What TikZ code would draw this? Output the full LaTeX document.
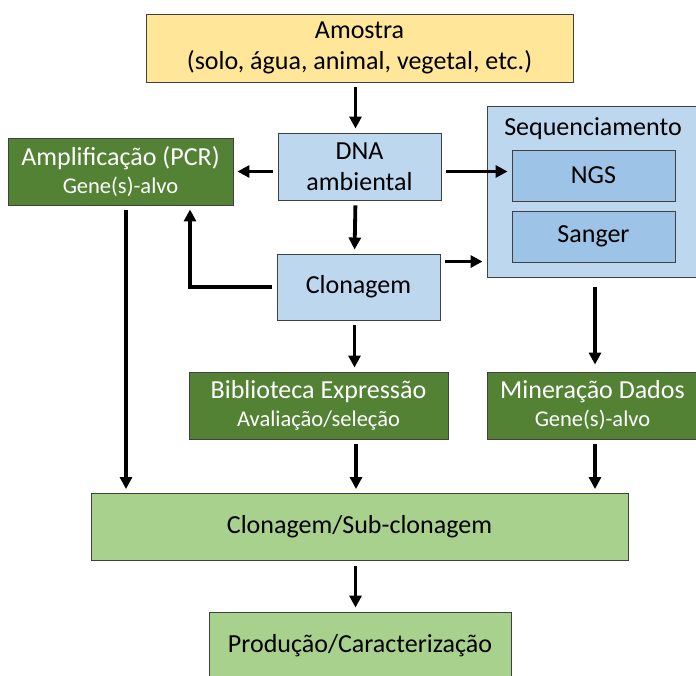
\documentclass[tikz,border=0pt]{standalone}
\usepackage{fontspec}
\setmainfont{Carlito}
\usetikzlibrary{arrows.meta,calc}
\definecolor{sampleyellow}{HTML}{FFE699}
\definecolor{paleblue}{HTML}{BDD7EE}
\definecolor{midblue}{HTML}{9DC3E6}
\definecolor{darkgreen}{HTML}{548235}
\definecolor{lightgreen}{HTML}{A9D18E}
\definecolor{edgegray}{HTML}{404040}
\newcommand{\mainsize}{\fontsize{26}{31}\selectfont}
\newcommand{\pairsize}{\fontsize{26}{28}\selectfont}
\newcommand{\subsize}{\fontsize{22.5}{28}\selectfont}
\tikzset{
  box/.style={draw=edgegray, line width=0.9pt, inner sep=0pt, align=center,
    font=\mainsize},
  yellowbox/.style={box, fill=sampleyellow},
  bluebox/.style={box, fill=paleblue},
  midbox/.style={box, fill=midblue},
  greenbox/.style={box, fill=darkgreen, text=white, font=\pairsize},
  palegreenbox/.style={box, fill=lightgreen},
  arr/.style={line width=3.8pt, -{Triangle[length=12pt,width=12pt]},
    shorten <=5pt, shorten >=4pt},
}
\begin{document}
\begin{tikzpicture}[x=1pt, y=-1pt]
  \useasboundingbox (0,0) rectangle (696,676);

  % boxes
  \node[yellowbox, minimum width=427pt, minimum height=68pt] (amostra) at (359.5,48)
    {Amostra\\(solo, água, animal, vegetal, etc.)};
  \node[bluebox, minimum width=163pt, minimum height=67pt] (dna) at (359.5,166.5)
    {DNA\\ambiental};
  \node[bluebox, minimum width=211pt, minimum height=171pt] (seq) at (592.5,191.5) {};
  \node[font=\mainsize, inner sep=0pt] (seqtitle) at (593,129) {Sequenciamento};
  \node[midbox, minimum width=163pt, minimum height=51pt] (ngs) at (593.5,175.5) {NGS};
  \node[midbox, minimum width=163pt, minimum height=51pt] (sanger) at (593.5,236.5) {Sanger};
  \node[greenbox, minimum width=225pt, minimum height=67pt] (amp) at (120.5,171.5)
    {Amplificação (PCR)\\{\subsize Gene(s)-alvo}};
  \node[bluebox, minimum width=163pt, minimum height=66pt] (clon) at (358.5,287) {Clonagem};
  \node[greenbox, minimum width=259pt, minimum height=67pt] (bib) at (318.5,405.5)
    {Biblioteca Expressão\\{\subsize Avaliação/seleção}};
  \node[greenbox, minimum width=211pt, minimum height=67pt] (mine) at (592.5,405.5)
    {Mineração Dados\\{\subsize Gene(s)-alvo}};
  \node[palegreenbox, minimum width=537pt, minimum height=67pt] (sub) at (359.5,527)
    {Clonagem/Sub-clonagem};
  \node[palegreenbox, minimum width=302pt, minimum height=67pt] (prod) at (360,645.5)
    {Produção/Caracterização};

  % connectors
  \draw[arr] ([xshift=-4pt]amostra.south) -- ([xshift=-4pt]dna.north);
  \draw[arr] (dna.west |- amp.east) -- (amp.east);
  \draw[arr] (dna.east |- amp.east) -- (ngs.west |- amp.east);
  \draw[arr] ([xshift=-4pt]dna.south) -- ([xshift=-4pt]clon.north);
  \draw[arr] (clon.west) -| ($(amp.south)+(69.5,0)$);
  \draw[arr] ([yshift=-8pt]clon.north east) -- ([yshift=-8pt]clon.north east -| seq.west);
  \draw[arr] ([xshift=5.5pt]amp.south) -- ([xshift=5.5pt]amp.south |- sub.north);
  \draw[arr] ([xshift=-4pt]clon.south) -- ([xshift=-4pt]clon.south |- bib.north);
  \draw[arr, shorten <=10pt, shorten >=7pt] ([xshift=2.5pt]seq.south) -- ([xshift=2.5pt]seq.south |- mine.north);
  \draw[arr] ([xshift=37.5pt]bib.south) -- ([xshift=37.5pt]bib.south |- sub.north);
  \draw[arr] ([xshift=2.5pt]mine.south) -- ([xshift=2.5pt]mine.south |- sub.north);
  \draw[arr] ([xshift=-4pt]sub.south) -- ([xshift=-4pt]sub.south |- prod.north);
\end{tikzpicture}
\end{document}
